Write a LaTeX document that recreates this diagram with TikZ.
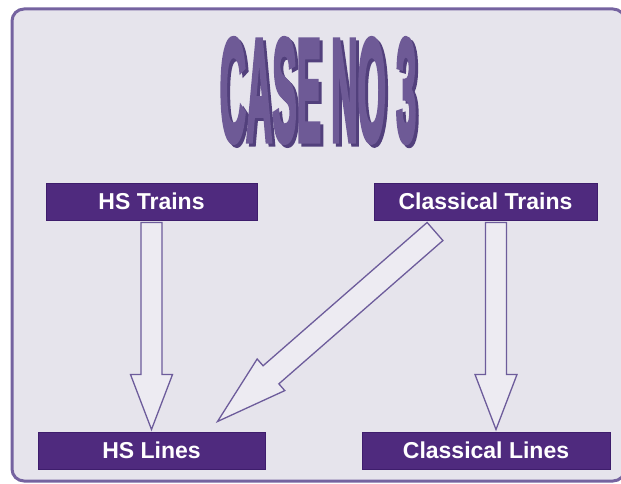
\documentclass[tikz,border=0pt]{standalone}
\usepackage{graphicx}
\usepackage{fontspec}
\setmainfont{Liberation Sans}
\newfontfamily\titlefont[BoldFeatures={FakeBold=4}]{Liberation Sans}
\usetikzlibrary{calc,positioning}
\usepackage{xcolor}
\definecolor{framepurple}{HTML}{7563A0}
\definecolor{boxpurple}{HTML}{4F2A7E}
\definecolor{boxedge}{HTML}{3E1D6C}
\definecolor{bggrey}{HTML}{E6E4EC}
\definecolor{arrowedge}{HTML}{6D5C9B}
\definecolor{arrowfill}{HTML}{EDEBF2}
\definecolor{titlepurple}{HTML}{6E5A96}
\definecolor{titledark}{HTML}{52407C}
% block arrow: [head length]{start}{tip}{shaft half width}
\newcommand{\blockarrow}[4][55]{%
  \coordinate (hb) at ($(#3)!#1pt!(#2)$);
  \draw[arrowbody] ($(#2)!#4pt!90:(#3)$) -- ($(hb)!#4pt!90:(#3)$) -- ($(hb)!21pt!90:(#3)$)
    -- (#3) -- ($(hb)!21pt!-90:(#3)$) -- ($(hb)!#4pt!-90:(#3)$) -- ($(#2)!#4pt!-90:(#3)$) -- cycle;}
% title lettering with a dark offset shade
\newcommand{\shadedtitle}[1]{\scalebox{0.25}[1]{%
  \makebox[0pt][l]{\kern12pt\raisebox{-3pt}{\color{titledark}#1}}{\color{titlepurple}#1}}}
\tikzset{
  railbox/.style={draw=boxedge, fill=boxpurple, text=white, line width=1pt,
    font=\fontsize{23}{23}\selectfont\bfseries, minimum height=37pt, inner sep=0pt},
  arrowbody/.style={draw=arrowedge, fill=arrowfill, line width=1.3pt, line join=miter},
  titletext/.style={inner sep=0pt, font=\titlefont\bfseries\fontsize{146}{146}\selectfont}
}

\begin{document}
\begin{tikzpicture}[x=1pt, y=-1pt]
\useasboundingbox (0,0) rectangle (621,484);
% frame
\draw[framepurple, line width=3pt, fill=bggrey, rounded corners=12pt] (12,9) rectangle (625,481);
% title
\node[titletext] (title) at (318,92) {\shadedtitle{CASE NO 3}};
% boxes
\node[railbox, minimum width=211pt] (hstrains) at (151.5,201.5) {HS Trains};
\node[railbox, minimum width=223pt] (classtrains) at (485.5,201.5) {Classical Trains};
\node[railbox, minimum width=227pt] (hslines) at (151.5,450.5) {HS Lines};
\node[railbox, minimum width=248pt] (classlines) at (486,450.5) {Classical Lines};
% arrow ends
\coordinate (s1) at ($(hstrains.south)+(0,2)$);
\coordinate (t1) at ($(hslines.north)+(0,-2)$);
\coordinate (s2) at ($(classtrains.south)+(10.5,2)$);
\coordinate (t2) at ($(classlines.north)+(10,-2)$);
\coordinate (s3) at ($(classtrains.south)+(-50.5,11)$);
\coordinate (t3) at ($(hslines.north east)+(-48,-10)$);
\blockarrow{s1}{t1}{10.5}
\blockarrow{s2}{t2}{10.5}
\blockarrow[71]{s3}{t3}{12}
\end{tikzpicture}
\end{document}
